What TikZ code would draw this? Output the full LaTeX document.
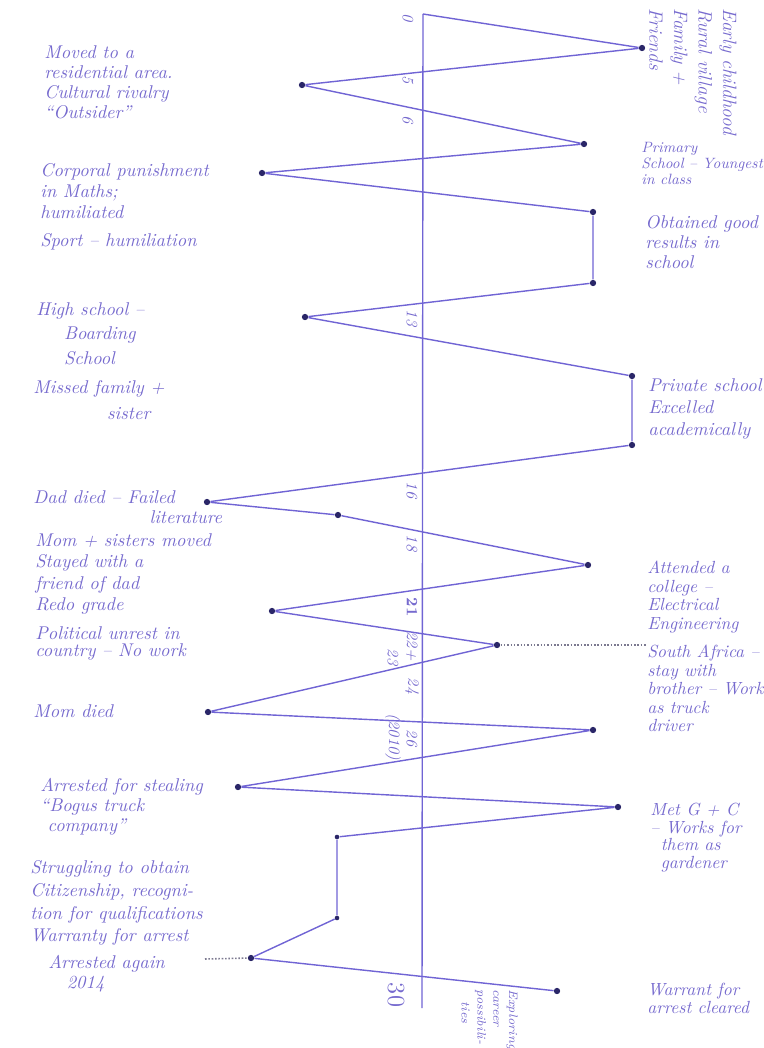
\documentclass[tikz,border=0pt]{standalone}
\usepackage{tikz}
\definecolor{pen}{RGB}{112,100,212}
\definecolor{ink}{RGB}{118,106,206}
\definecolor{blot}{RGB}{42,38,104}

\begin{document}
\begin{tikzpicture}[x=0.02cm,y=-0.02cm,
  lifeline/.style={pen,line width=0.8pt},
  dot/.style={circle,fill=blot,inner sep=0pt,minimum size=3.6pt},
  note/.style={ink,font=\fontsize{10.5}{11.5}\selectfont\itshape,align=left,anchor=north west,inner sep=0pt},
  age/.style={ink,font=\fontsize{9}{10}\selectfont\itshape,rotate=-90,inner sep=0pt}]
\useasboundingbox (0,0) rectangle (764,1048);

% time axis
\coordinate (top) at (423,14);
\coordinate (bottom) at (422,1008);
\draw[lifeline] (top) -- (bottom);

% turning points of the life line
\node[dot] (p1) at (642,48) {};
\node[dot] (p2) at (302,85) {};
\node[dot] (p3) at (584,144) {};
\node[dot] (p4) at (262,173) {};
\node[dot] (p5) at (593,212) {};
\node[dot] (p6) at (593,283) {};
\node[dot] (p7) at (305,317) {};
\node[dot] (p8) at (632,376) {};
\node[dot] (p9) at (632,445) {};
\node[dot] (p10) at (207,502) {};
\node[dot] (p11) at (338,515) {};
\node[dot] (p12) at (588,565) {};
\node[dot] (p13) at (272,611) {};
\node[dot] (p14) at (497,645) {};
\node[dot] (p15) at (208,712) {};
\node[dot] (p16) at (593,730) {};
\node[dot] (p17) at (238,787) {};
\node[dot] (p18) at (618,807) {};
\node[dot,minimum size=2.6pt] (p19) at (337,837) {};
\node[dot,minimum size=2.6pt] (p20) at (337,918) {};
\node[dot] (p21) at (251,958) {};
\node[dot] (p22) at (557,991) {};

\draw[lifeline] (top) -- (p1) -- (p2) -- (p3) -- (p4) -- (p5) -- (p6) -- (p7) -- (p8) -- (p9) -- (p10) -- (p11)
  -- (p12) -- (p13) -- (p14) -- (p15) -- (p16) -- (p17) -- (p18) -- (p19) -- (p20) -- (p21) -- (p22);

\coordinate (sa) at (647,645);
\coordinate (ag) at (205,959);
\draw[gray!80!pen,line width=0.9pt,densely dotted] (p14) -- (sa);
\draw[gray!80!pen,line width=0.9pt,densely dotted] (ag) -- (p21);

% ages along the axis
\node[age] (a0) at (408,18) {0};
\node[age] (a5) at (408,80) {5};
\node[age] (a6) at (408,120) {6};
\node[age] (a13) at (412,318) {13};
\node[age] (a16) at (412,490) {16};
\node[age] (a18) at (412,543) {18};
\node[age,font=\fontsize{9}{10}\selectfont\bfseries] (a21) at (412,607) {21};
\node[age] (a22) at (412,646) {22+};
\node[age] (a23) at (393,657) {23};
\node[age] (a24) at (412,686) {24};
\node[age] (a26) at (412,738) {26};
\node[age] (y2010) at (393,737) {(2010)};
\node[age,font=\fontsize{14}{15}\selectfont] (a30) at (396,995) {30};

% left side
\node[note] (moved) at (44,45) {Moved to a\\residential area.\\Cultural rivalry\\``Outsider''};
\node[note,font=\fontsize{10.5}{12}\selectfont\itshape] (corporal) at (40,163) {Corporal punishment\\in Maths;\\humiliated};
\node[note] (sport) at (40,233) {Sport -- humiliation};
\node[note,font=\fontsize{10.5}{14}\selectfont\itshape] (high) at (36,302) {High school --\\\hspace{1.5em}Boarding\\\hspace{1.5em}School};
\node[note,font=\fontsize{10.5}{15}\selectfont\itshape] (missed) at (33,380) {Missed family +\\\hspace{4em}sister};
\node[note] (dad) at (33,490) {Dad died -- Failed\\\hspace{6.3em}literature};
\node[note,font=\fontsize{10.5}{12.3}\selectfont\itshape] (sisters) at (35,533) {Mom + sisters moved\\Stayed with a\\friend of dad\\Redo grade};
\node[note,font=\fontsize{10.5}{10}\selectfont\itshape] (unrest) at (35,626) {Political unrest in\\country -- No work};
\node[note] (momdied) at (33,704) {Mom died};
\node[note] (stealing) at (40,778) {Arrested for stealing\\``Bogus truck\\\hspace{0.4em}company''};
\node[note,font=\fontsize{10.5}{13}\selectfont\itshape] (citizen) at (30,860) {Struggling to obtain\\Citizenship, recogni-\\tion for qualifications\\Warranty for arrest};
\node[note] (again) at (48,955) {Arrested again\\\hspace{1em}2014};

% right side
\node[note,rotate=-90,font=\fontsize{11}{14}\selectfont\itshape] (early) at (737,8) {Early childhood\\Rural village\\Family +\\Friends};
\node[note,font=\fontsize{8.5}{9}\selectfont\itshape] (primary) at (641,142) {Primary\\School -- Youngest\\in class};
\node[note] (results) at (645,215) {Obtained good\\results in\\school};
\node[note,font=\fontsize{10.5}{12.5}\selectfont\itshape] (private) at (648,378) {Private school\\Excelled\\academically};
\node[note,font=\fontsize{10}{10.5}\selectfont\itshape] (college) at (647,561) {Attended a\\college --\\Electrical\\Engineering};
\node[note,font=\fontsize{10}{10.5}\selectfont\itshape] (southafrica) at (647,645) {South Africa --\\stay with\\brother -- Work\\as truck\\driver};
\node[note,font=\fontsize{10}{10}\selectfont\itshape] (met) at (650,803) {Met G + C\\-- Works for\\\hspace{0.6em}them as\\\hspace{0.6em}gardener};
\node[note,font=\fontsize{10}{10}\selectfont\itshape] (cleared) at (647,983) {Warrant for\\arrest cleared};
\node[note,rotate=-90,font=\fontsize{7}{9}\selectfont\itshape] (exploring) at (518,989) {Exploring\\career\\possibili-\\\hspace{1em}ties};
\end{tikzpicture}
\end{document}
